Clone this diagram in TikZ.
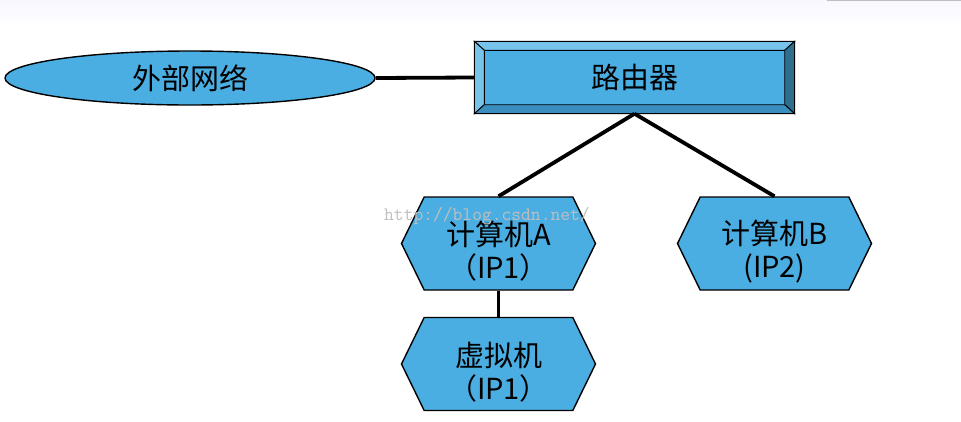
\documentclass[tikz,border=0pt]{standalone}
\usepackage{fontspec}
\newfontfamily\cjk{Noto Sans CJK SC}
\usetikzlibrary{shapes.geometric,shapes.symbols,calc}

\definecolor{boxblue}{RGB}{75,174,226}
\definecolor{bevlight}{RGB}{118,196,236}
\definecolor{bevdark}{RGB}{46,110,143}
\definecolor{bevmid}{RGB}{58,142,190}

\begin{document}
\begin{tikzpicture}[x=1pt,y=-1pt,
  box/.style={draw=black,line width=1.4pt,fill=boxblue,inner sep=0pt,align=center,
    font=\cjk\fontsize{29}{33}\selectfont},
  hexbox/.style={box,shape=signal,signal to=east and west,signal pointer angle=128,
    minimum width=194pt,minimum height=93pt},
  link/.style={line width=3.8pt}]
\useasboundingbox (0,0) rectangle (961,421);

% Background
\fill[top color=blue!3,bottom color=white] (0,0) rectangle (961,26);
\draw[black!25,line width=1.2pt] (827,0.6) -- (961,0.6);

% Ellipse
\node[box,ellipse,minimum width=370pt,minimum height=54pt] (net) at (190,78) {外部网络};

% Router
\node[box,minimum width=319pt,minimum height=71pt] (router) at (634.5,77.5) {路由器};
\coordinate (rnw) at ($(router.north west)+(10,9)$);
\coordinate (rne) at ($(router.north east)+(-10,9)$);
\coordinate (rsw) at ($(router.south west)+(10,-9)$);
\coordinate (rse) at ($(router.south east)+(-10,-9)$);
\filldraw[fill=bevlight,line width=0.9pt] (router.north west) -- (router.north east) -- (rne) -- (rnw) -- cycle;
\filldraw[fill=bevlight,line width=0.9pt] (router.north west) -- (rnw) -- (rsw) -- (router.south west) -- cycle;
\filldraw[fill=bevdark,line width=0.9pt] (router.north east) -- (rne) -- (rse) -- (router.south east) -- cycle;
\filldraw[fill=bevmid,line width=0.9pt] (router.south west) -- (rsw) -- (rse) -- (router.south east) -- cycle;
\draw[line width=1.4pt] (router.north west) rectangle (router.south east);

% Hexagons
\node[hexbox] (pcA) at (498.5,243.5) {\rule{0pt}{40pt}计算机A\\（IP1）};
\node[hexbox] (pcB) at (774.5,243.5) {\rule{0pt}{40pt}计算机B\\(IP2)};
\node[hexbox] (vm) at (498.5,364) {\rule{0pt}{40pt}虚拟机\\（IP1）};

%Straight Lines
\draw[link] (net.east) -- (router.west);
\draw[link] (router.south) -- (pcA.north);
\draw[link] (router.south) -- (pcB.north);
\draw[link] (pcA.south) -- (vm.north);

% Text Node
\node[anchor=west,text=black!25,font=\ttfamily\fontsize{19}{19}\selectfont,inner sep=0pt] (mark) at (384,216) {http://blog.csdn.net/};

\end{tikzpicture}
\end{document}
